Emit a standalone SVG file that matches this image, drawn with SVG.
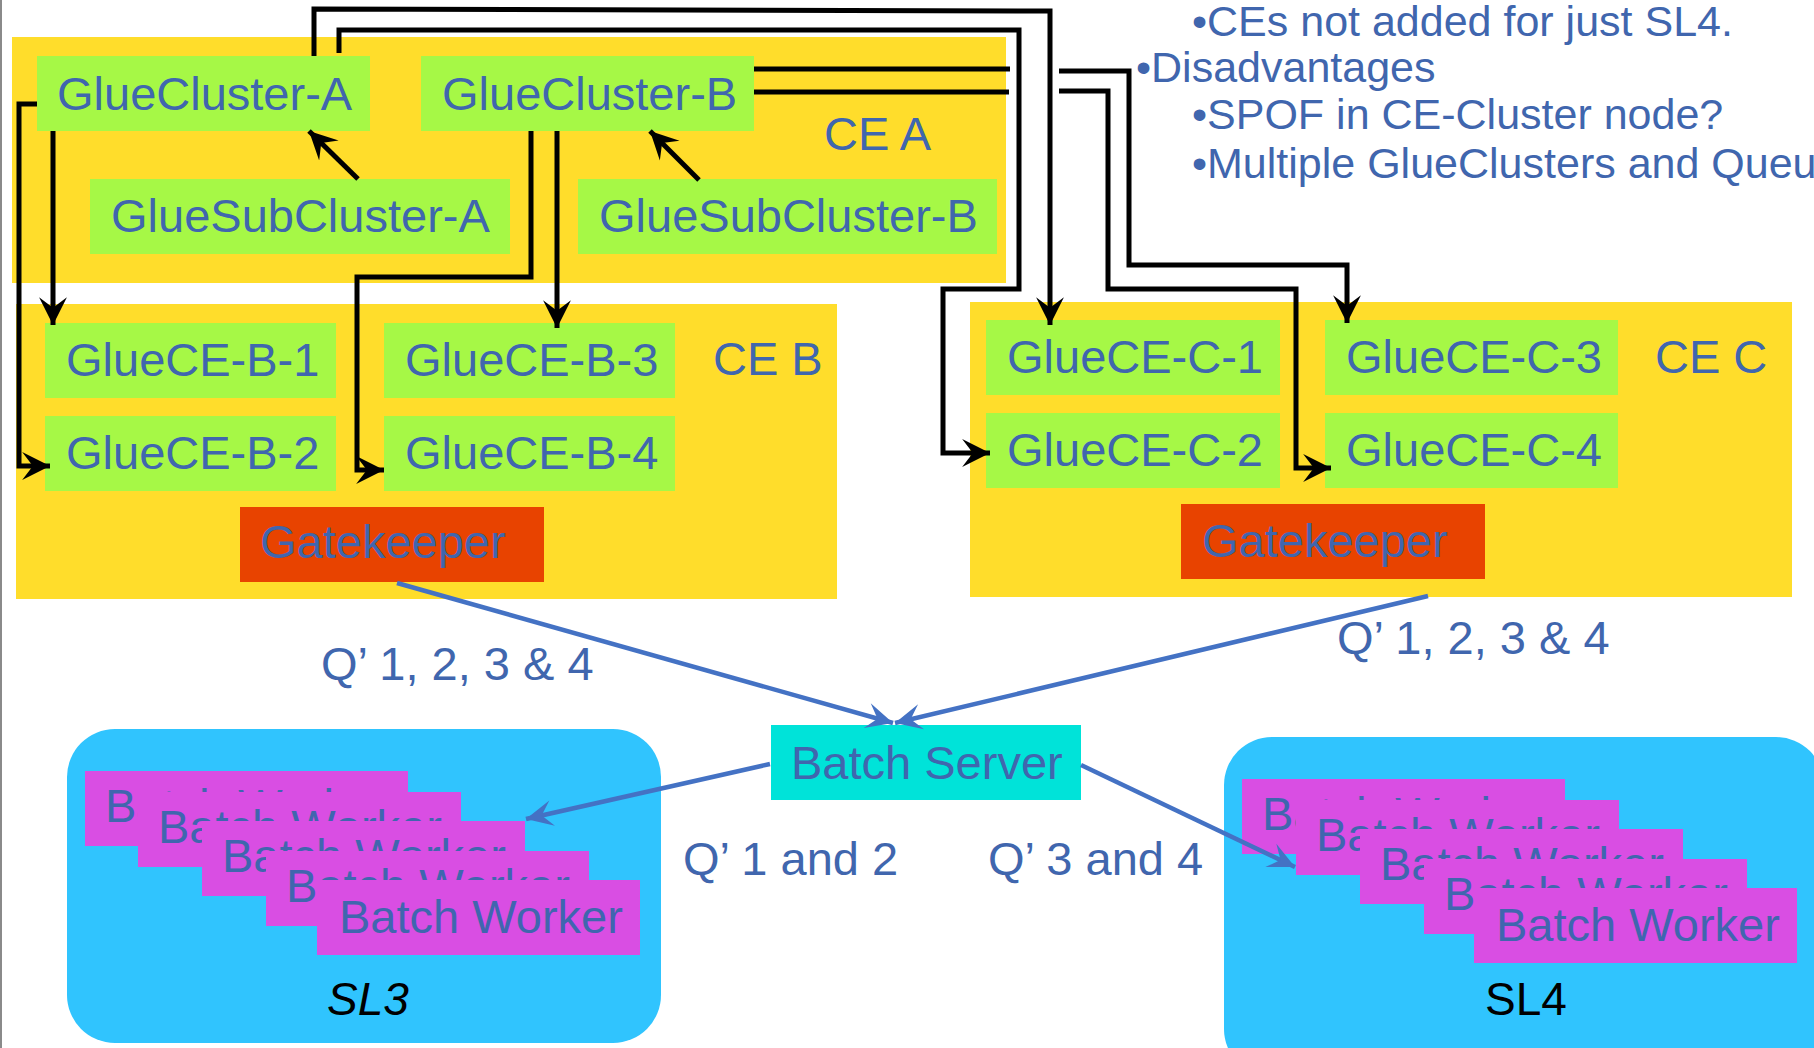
<svg xmlns="http://www.w3.org/2000/svg" width="1814" height="1048" viewBox="0 0 1814 1048">
  <style>
    text { font-family: "Liberation Sans", Arial, sans-serif; font-size: 47px; fill: #4066AE; }
    .ce { fill: #FFDD2B; }
    .glue { fill: #A6F846; }
    .gk { fill: #E84300; }
    .bs { fill: #00E3D9; }
    .pool { fill: #30C4FE; }
    .bw { fill: #D94EE3; }
    .note { font-size: 43px; }
    .pname { fill: #000000; font-size: 46px; }
    .conn { fill: none; stroke: #000000; stroke-width: 5; stroke-linejoin: miter; }
    .queue { fill: none; stroke: #4472C4; stroke-width: 4.5; }
  </style>
  <defs>
    <marker id="blackHead" markerUnits="userSpaceOnUse" markerWidth="30" markerHeight="30" viewBox="-26 -14 28 28" refX="0" refY="0" orient="auto">
      <path d="M0,0 L-26,-13 L-16,0 L-26,13 Z" fill="#000000"/>
    </marker>
    <marker id="blueHead" markerUnits="userSpaceOnUse" markerWidth="30" markerHeight="30" viewBox="-26 -14 28 28" refX="0" refY="0" orient="auto">
      <path d="M0,0 L-25,-12 L-15,0 L-25,12 Z" fill="#4472C4"/>
    </marker>
  </defs>

  <rect width="1814" height="1048" fill="#FFFFFF"/>
  <line x1="1" y1="0" x2="1" y2="1048" stroke="#8A8A8A" stroke-width="2"/>

  <!-- CE A -->
  <g id="ce-a">
    <rect class="ce" x="12" y="37" width="994" height="246"/>
    <text x="824" y="150">CE A</text>
  </g>
  <g id="gluecluster-a">
    <rect class="glue" x="37" y="56" width="333" height="75"/>
    <text x="57" y="110">GlueCluster-A</text>
  </g>
  <g id="gluecluster-b">
    <rect class="glue" x="421" y="56" width="333" height="75"/>
    <text x="442" y="110">GlueCluster-B</text>
  </g>
  <g id="gluesubcluster-a">
    <rect class="glue" x="90" y="179" width="420" height="75"/>
    <text x="111" y="232">GlueSubCluster-A</text>
  </g>
  <g id="gluesubcluster-b">
    <rect class="glue" x="578" y="179" width="419" height="75"/>
    <text x="599" y="232">GlueSubCluster-B</text>
  </g>

  <!-- CE B -->
  <g id="ce-b">
    <rect class="ce" x="16" y="304" width="821" height="295"/>
    <text x="713" y="375">CE B</text>
  </g>
  <g id="gluece-b-1">
    <rect class="glue" x="45" y="323" width="291" height="75"/>
    <text x="66" y="376">GlueCE-B-1</text>
  </g>
  <g id="gluece-b-2">
    <rect class="glue" x="45" y="416" width="291" height="75"/>
    <text x="66" y="469">GlueCE-B-2</text>
  </g>
  <g id="gluece-b-3">
    <rect class="glue" x="384" y="323" width="291" height="75"/>
    <text x="405" y="376">GlueCE-B-3</text>
  </g>
  <g id="gluece-b-4">
    <rect class="glue" x="384" y="416" width="291" height="75"/>
    <text x="405" y="469">GlueCE-B-4</text>
  </g>
  <g id="gatekeeper-b">
    <rect class="gk" x="240" y="507" width="304" height="75"/>
    <text x="260" y="558">Gatekeeper</text>
  </g>

  <!-- CE C -->
  <g id="ce-c">
    <rect class="ce" x="970" y="302" width="822" height="295"/>
    <text x="1655" y="373">CE C</text>
  </g>
  <g id="gluece-c-1">
    <rect class="glue" x="986" y="320" width="294" height="75"/>
    <text x="1007" y="373">GlueCE-C-1</text>
  </g>
  <g id="gluece-c-2">
    <rect class="glue" x="986" y="413" width="294" height="75"/>
    <text x="1007" y="466">GlueCE-C-2</text>
  </g>
  <g id="gluece-c-3">
    <rect class="glue" x="1325" y="320" width="293" height="75"/>
    <text x="1346" y="373">GlueCE-C-3</text>
  </g>
  <g id="gluece-c-4">
    <rect class="glue" x="1325" y="413" width="293" height="75"/>
    <text x="1346" y="466">GlueCE-C-4</text>
  </g>
  <g id="gatekeeper-c">
    <rect class="gk" x="1181" y="504" width="304" height="75"/>
    <text x="1202" y="557">Gatekeeper</text>
  </g>

  <!-- Batch server -->
  <g id="batch-server">
    <rect class="bs" x="771" y="725" width="310" height="75"/>
    <text x="791" y="779">Batch Server</text>
  </g>

  <!-- SL3 worker pool -->
  <g id="pool-sl3">
    <rect class="pool" x="67" y="729" width="594" height="314" rx="48" ry="48"/>
    <text class="pname" x="327" y="1015" font-style="italic">SL3</text>
  </g>
  <g id="sl3-worker-1"><rect class="bw" x="85" y="771" width="323" height="75"/><text x="105" y="822">Batch Worker</text></g>
  <g id="sl3-worker-2"><rect class="bw" x="138" y="792" width="323" height="75"/><text x="158" y="843">Batch Worker</text></g>
  <g id="sl3-worker-3"><rect class="bw" x="202" y="821" width="323" height="75"/><text x="222" y="872">Batch Worker</text></g>
  <g id="sl3-worker-4"><rect class="bw" x="266" y="851" width="323" height="75"/><text x="286" y="902">Batch Worker</text></g>
  <g id="sl3-worker-5"><rect class="bw" x="317" y="880" width="323" height="75"/><text x="339" y="933">Batch Worker</text></g>

  <!-- SL4 worker pool -->
  <g id="pool-sl4">
    <rect class="pool" x="1224" y="737" width="600" height="340" rx="48" ry="48"/>
    <text class="pname" x="1485" y="1015">SL4</text>
  </g>
  <g id="sl4-worker-1"><rect class="bw" x="1242" y="779" width="323" height="75"/><text x="1262" y="830">Batch Worker</text></g>
  <g id="sl4-worker-2"><rect class="bw" x="1296" y="800" width="323" height="75"/><text x="1316" y="851">Batch Worker</text></g>
  <g id="sl4-worker-3"><rect class="bw" x="1360" y="829" width="323" height="75"/><text x="1380" y="880">Batch Worker</text></g>
  <g id="sl4-worker-4"><rect class="bw" x="1424" y="859" width="323" height="75"/><text x="1444" y="910">Batch Worker</text></g>
  <g id="sl4-worker-5"><rect class="bw" x="1474" y="888" width="323" height="75"/><text x="1496" y="941">Batch Worker</text></g>

  <!-- Queue labels -->
  <g id="queue-labels">
    <text x="321" y="680">Q’ 1, 2, 3 &amp; 4</text>
    <text x="1337" y="654">Q’ 1, 2, 3 &amp; 4</text>
    <text x="683" y="875">Q’ 1 and 2</text>
    <text x="988" y="875">Q’ 3 and 4</text>
  </g>

  <!-- Notes -->
  <g id="notes">
    <text class="note" x="1192" y="36">•CEs not added for just SL4.</text>
    <text class="note" x="1136" y="82">•Disadvantages</text>
    <text class="note" x="1192" y="129">•SPOF in CE-Cluster node?</text>
    <text class="note" x="1192" y="178">•Multiple GlueClusters and Queu</text>
  </g>

  <!-- Connectors -->
  <g id="connectors">
    <!-- sub-cluster to cluster -->
    <path class="conn" d="M358,179 L309,131" marker-end="url(#blackHead)"/>
    <path class="conn" d="M699,180 L650,131" marker-end="url(#blackHead)"/>
    <!-- GlueCluster-A to CE B -->
    <path class="conn" d="M53,131 L53,325" marker-end="url(#blackHead)"/>
    <path class="conn" d="M37,104 H19 V466 H50" marker-end="url(#blackHead)"/>
    <!-- GlueCluster-B to CE B -->
    <path class="conn" d="M557,131 V328" marker-end="url(#blackHead)"/>
    <path class="conn" d="M531,131 V277 H357 V470 H384" marker-end="url(#blackHead)"/>
    <!-- GlueCluster-A to CE C -->
    <path class="conn" d="M314,56 V9 L1050,11 V325" marker-end="url(#blackHead)"/>
    <path class="conn" d="M339,53 V30 H1019 V289 H943 V453 H990" marker-end="url(#blackHead)"/>
    <!-- GlueCluster-B to CE C (broken where they cross) -->
    <path class="conn" d="M754,69 H1010 M1059,71 H1129 V265 H1347 V323" marker-end="url(#blackHead)"/>
    <path class="conn" d="M754,92 H1009 M1059,91 H1108 V289 H1296 V468 H1331" marker-end="url(#blackHead)"/>
    <!-- queues -->
    <path class="queue" d="M397,583 L893,723" marker-end="url(#blueHead)"/>
    <path class="queue" d="M1428,596 L895,723" marker-end="url(#blueHead)"/>
    <path class="queue" d="M770,764 L526,819" marker-end="url(#blueHead)"/>
    <path class="queue" d="M1081,765 L1295,867" marker-end="url(#blueHead)"/>
  </g>
</svg>
